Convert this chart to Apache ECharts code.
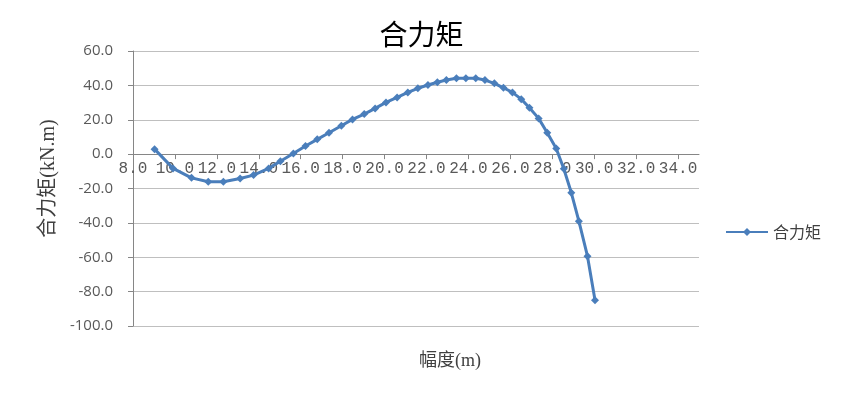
<!DOCTYPE html>
<html>
<head>
<meta charset="utf-8">
<script src="https://cdn.jsdelivr.net/npm/echarts@6/dist/echarts.min.js"></script>
<style>
  html, body { margin: 0; padding: 0; background: #fff; }
  #chart { width: 843px; height: 402px; }
</style>
</head>
<body>
<div id="chart"></div>
<script>
// 幅度(m)
const amplitude = [9.03, 9.91, 10.79, 11.59, 12.31, 13.11, 13.75, 14.47, 15.03, 15.65,
  16.23, 16.79, 17.35, 17.94, 18.47, 19.03, 19.55, 20.07, 20.60, 21.11,
  21.59, 22.07, 22.52, 22.95, 23.43, 23.88, 24.35, 24.79, 25.24, 25.67,
  26.10, 26.52, 26.91, 27.35, 27.76, 28.19, 28.55, 28.91, 29.27, 29.68, 30.04];
// 合力矩(kN.m)
const moment = [2.9, -8.3, -13.8, -16.1, -16.1, -14.2, -12.2, -8.3, -4.1, 0.4,
  4.7, 8.6, 12.4, 16.5, 20.2, 23.3, 26.6, 30.1, 33.0, 35.9,
  38.3, 40.2, 41.8, 43.1, 44.1, 44.1, 44.1, 43.1, 41.2, 38.6,
  35.9, 32.0, 27.0, 20.8, 12.4, 3.3, -8.5, -22.5, -39.0, -59.4, -85.0];

const seriesName = '合力矩';
const cjk = "'Liberation Serif', 'Noto Sans CJK SC', serif";

const chart = echarts.init(document.getElementById('chart'));

// x 轴放在 y=0 处: 网格高 275, 0 点距底部 275*100/160
const xOffset = -275 * 100 / 160;

const options = {
  animation: false,
  title: [
    {
      text: '合力矩',
      left: 'center',
      top: 15,
      textStyle: { fontSize: 28, fontWeight: 'normal', color: '#000', fontFamily: "'Noto Sans CJK SC'" }
    },
    {
      text: '幅度(m)',
      left: 414,
      top: 347,
      textStyle: { fontSize: 18, fontWeight: 'normal', color: '#404040', fontFamily: cjk }
    }
  ],
  legend: {
    data: [seriesName],
    orient: 'vertical',
    left: 720,
    top: 219,
    itemWidth: 42,
    itemHeight: 10,
    textStyle: { fontSize: 16, color: '#404040', fontFamily: "'Noto Sans CJK SC'" }
  },
  grid: {
    left: 133,
    right: 144,
    top: 51,
    bottom: 76
  },
  xAxis: {
    type: 'value',
    min: 8,
    max: 35,
    interval: 2,
    position: 'bottom',
    offset: xOffset,
    axisLine: { onZero: false, lineStyle: { color: '#868686' } },
    axisTick: { show: true, inside: false, length: 5, lineStyle: { color: '#868686' } },
    splitLine: { show: false },
    axisLabel: {
      showMaxLabel: false,
      margin: 7,
      fontSize: 16,
      color: '#595959',
      fontFamily: "'Liberation Mono', monospace",
      formatter: v => v.toFixed(1)
    }
  },
  yAxis: {
    type: 'value',
    min: -100,
    max: 60,
    interval: 20,
    name: '合力矩(kN.m)',
    nameLocation: 'middle',
    nameRotate: 90,
    nameGap: 72,
    nameTextStyle: { fontSize: 20, color: '#404040', fontFamily: cjk, padding: [0, 0, 0, 20] },
    axisLine: { show: true, lineStyle: { color: '#868686' } },
    axisTick: { show: true, inside: false, length: 5, lineStyle: { color: '#868686' } },
    splitLine: { show: true, lineStyle: { color: '#bfbfbf' } },
    axisLabel: {
      margin: 20,
      fontSize: 15,
      color: '#595959',
      fontFamily: "'Open Sans', sans-serif",
      formatter: v => v.toFixed(1)
    }
  },
  series: [
    {
      name: seriesName,
      type: 'line',
      z: 5,
      data: amplitude.map((x, i) => [x, moment[i]]),
      symbol: 'diamond',
      symbolSize: 8,
      showAllSymbol: true,
      lineStyle: { width: 3, color: '#4a7ebb' },
      itemStyle: { color: '#4a7ebb' }
    }
  ]
};

chart.setOption(options, true);
</script>
</body>
</html>
